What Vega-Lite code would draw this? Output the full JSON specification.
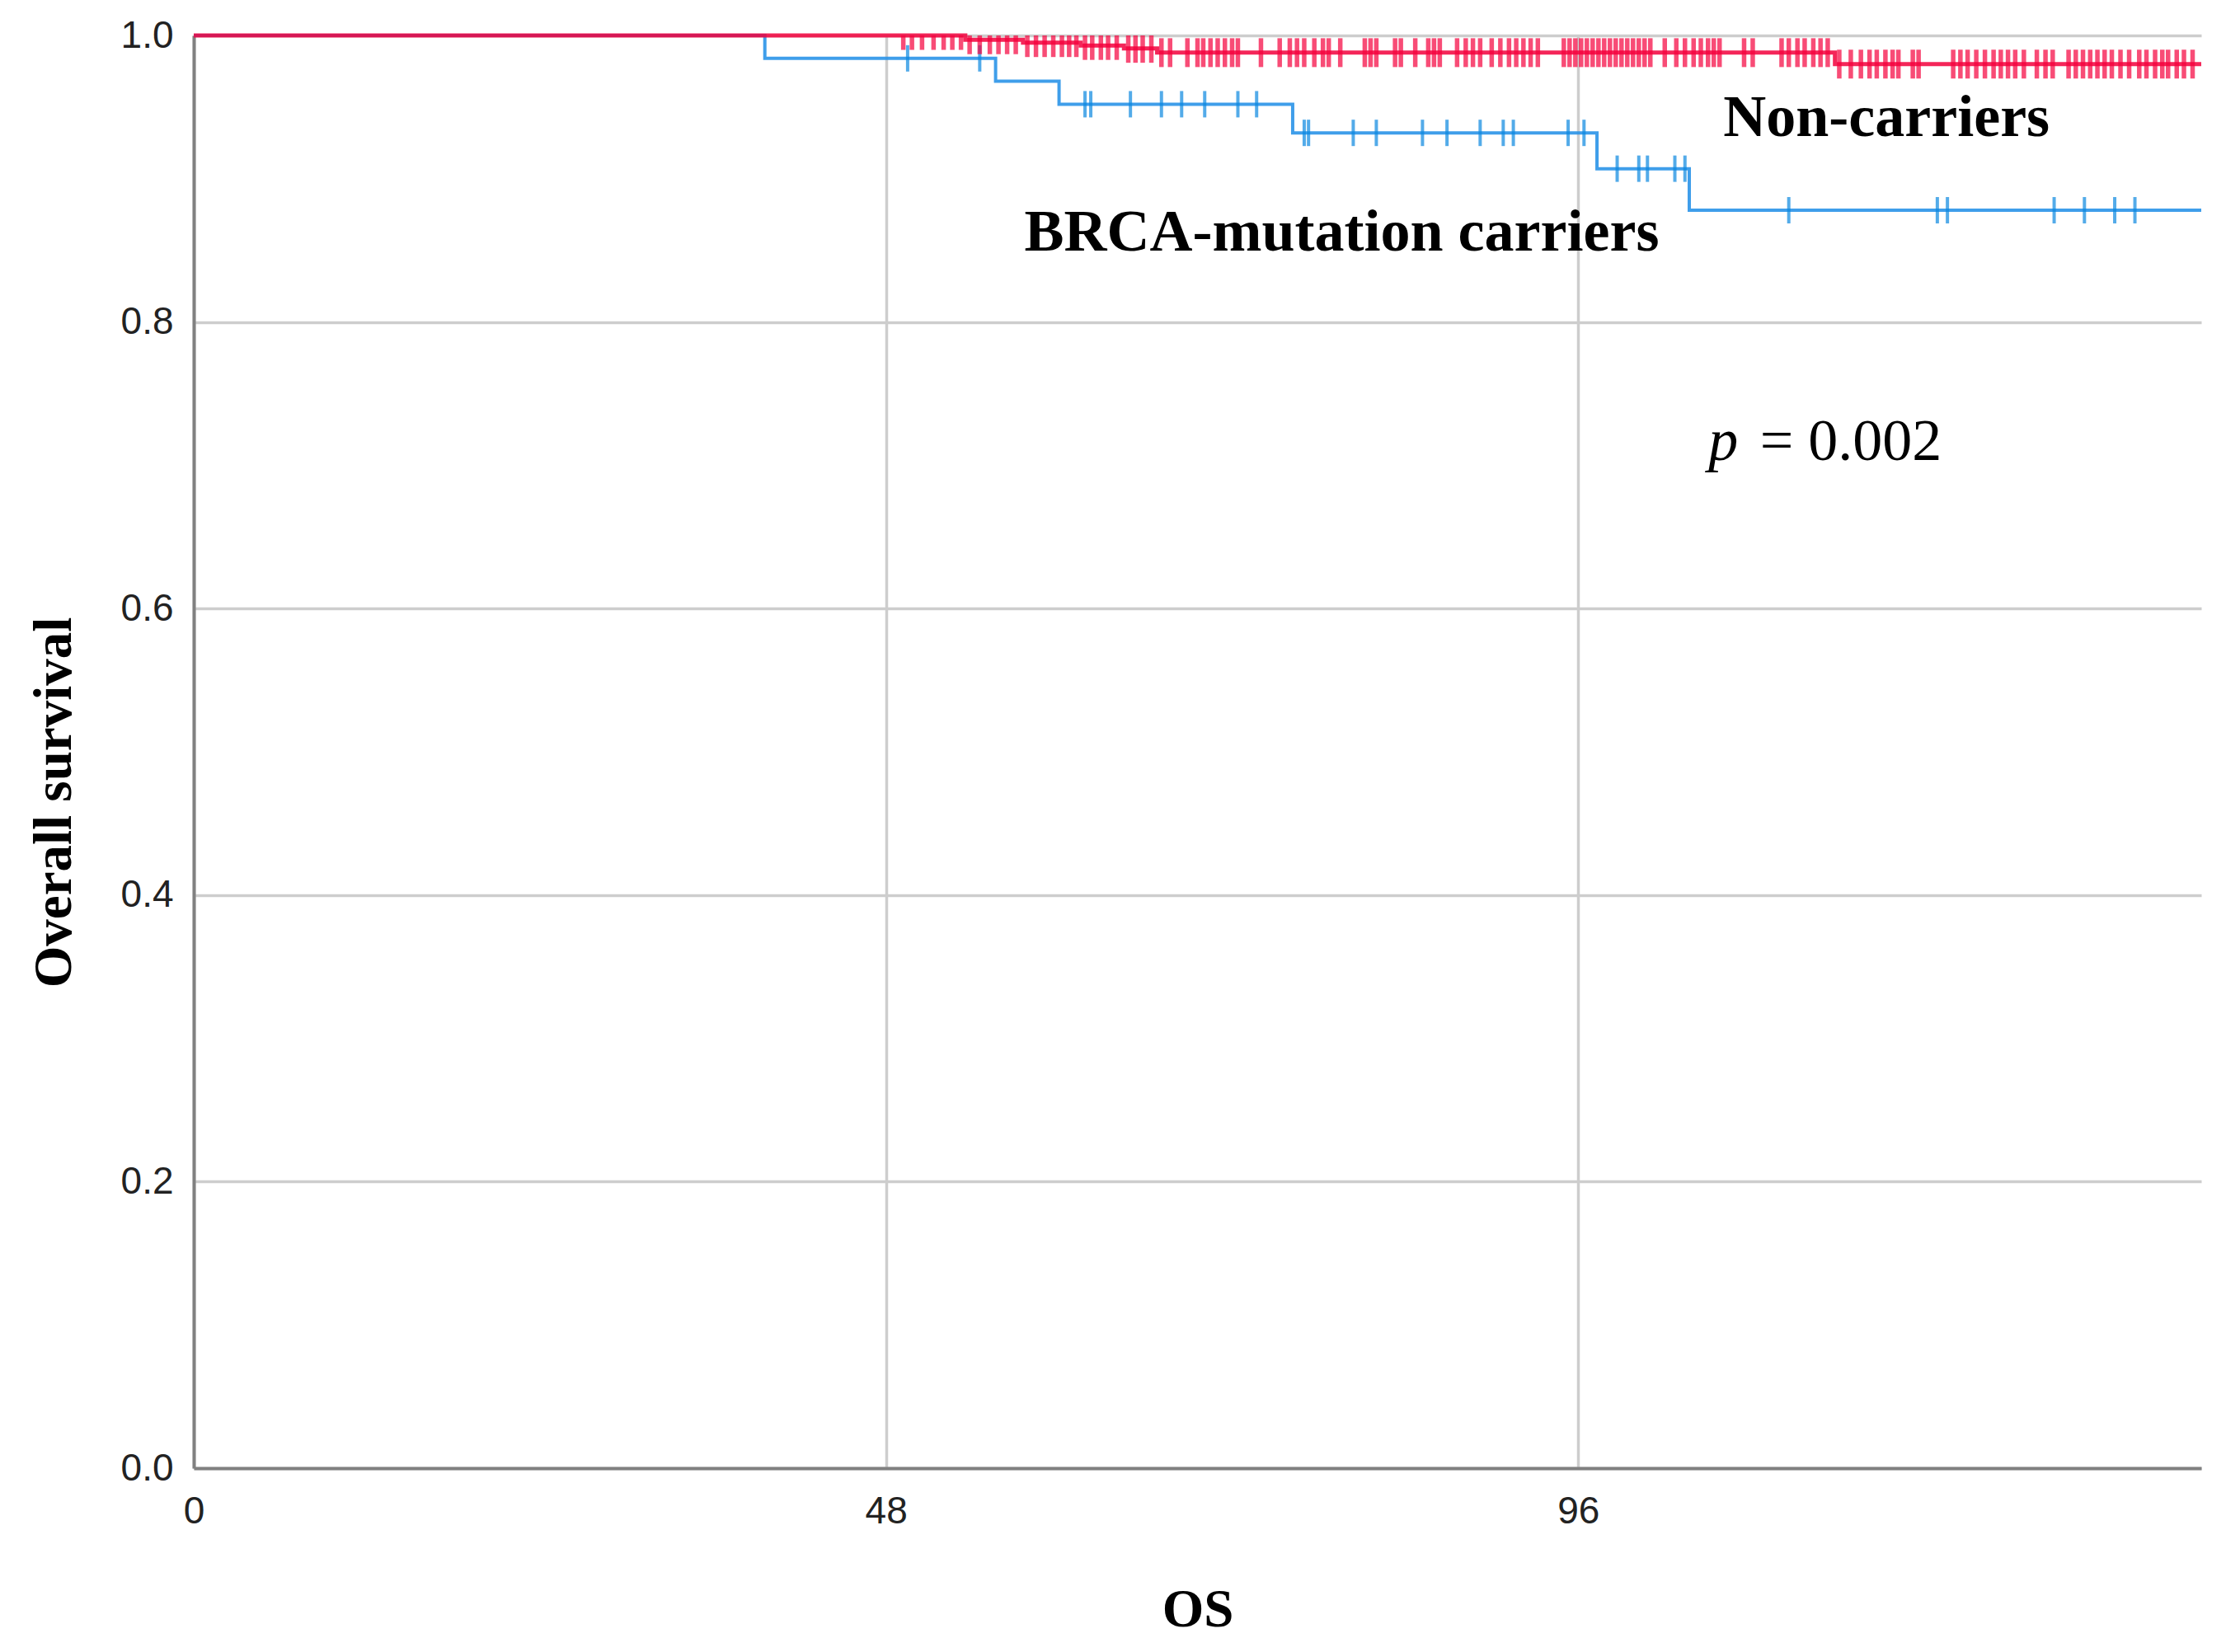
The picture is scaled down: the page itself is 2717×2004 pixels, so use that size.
{
  "$schema": "https://vega.github.io/schema/vega-lite/v6.json",
  "width": 2435,
  "height": 1738,
  "autosize": {"type": "none"},
  "padding": {"left": 235, "top": 43, "right": 47, "bottom": 223},
  "background": "white",
  "config": {"view": {"stroke": null}, "font": "Liberation Sans"},
  "datasets": {
    "blueSteps": [
      {"t": 0, "s": 1.0}, {"t": 39.6, "s": 0.984}, {"t": 55.6, "s": 0.968}, {"t": 60.0, "s": 0.952},
      {"t": 76.2, "s": 0.932}, {"t": 97.3, "s": 0.907}, {"t": 103.7, "s": 0.878}, {"t": 139.2, "s": 0.878}
    ],
    "redSteps": [
      {"t": 0, "s": 1.0}, {"t": 53.5, "s": 0.997}, {"t": 57.5, "s": 0.995}, {"t": 61.5, "s": 0.993},
      {"t": 64.5, "s": 0.991}, {"t": 66.8, "s": 0.988}, {"t": 113.8, "s": 0.98}, {"t": 139.2, "s": 0.98}
    ],
    "blueCensor": [
      {"t": 49.5, "s": 0.984}, {"t": 54.5, "s": 0.984},
      {"t": 61.8, "s": 0.952}, {"t": 62.2, "s": 0.952}, {"t": 64.95, "s": 0.952}, {"t": 67.1, "s": 0.952},
      {"t": 68.5, "s": 0.952}, {"t": 70.1, "s": 0.952}, {"t": 72.4, "s": 0.952}, {"t": 73.7, "s": 0.952},
      {"t": 77.0, "s": 0.932}, {"t": 77.3, "s": 0.932}, {"t": 80.4, "s": 0.932}, {"t": 82.0, "s": 0.932},
      {"t": 85.2, "s": 0.932}, {"t": 86.9, "s": 0.932}, {"t": 89.2, "s": 0.932}, {"t": 90.8, "s": 0.932},
      {"t": 91.5, "s": 0.932}, {"t": 95.3, "s": 0.932}, {"t": 96.4, "s": 0.932},
      {"t": 98.7, "s": 0.907}, {"t": 100.2, "s": 0.907}, {"t": 100.8, "s": 0.907}, {"t": 102.7, "s": 0.907}, {"t": 103.4, "s": 0.907},
      {"t": 110.6, "s": 0.878}, {"t": 120.9, "s": 0.878}, {"t": 121.6, "s": 0.878}, {"t": 129.0, "s": 0.878},
      {"t": 131.1, "s": 0.878}, {"t": 133.2, "s": 0.878}, {"t": 134.6, "s": 0.878}
    ],
    "redCensor": [
      {"t": 49.2, "s": 1.0}, {"t": 49.8, "s": 1.0}, {"t": 50.5, "s": 1.0}, {"t": 51.3, "s": 1.0}, {"t": 52.0, "s": 1.0}, {"t": 52.6, "s": 1.0}, {"t": 53.2, "s": 1.0},
      {"t": 53.8, "s": 0.997}, {"t": 54.5, "s": 0.997}, {"t": 55.2, "s": 0.997}, {"t": 55.8, "s": 0.997}, {"t": 56.4, "s": 0.997}, {"t": 57.0, "s": 0.997},
      {"t": 57.8, "s": 0.995}, {"t": 58.4, "s": 0.995}, {"t": 59.0, "s": 0.995}, {"t": 59.6, "s": 0.995}, {"t": 60.2, "s": 0.995}, {"t": 60.7, "s": 0.995}, {"t": 61.2, "s": 0.995},
      {"t": 61.8, "s": 0.993}, {"t": 62.3, "s": 0.993}, {"t": 62.9, "s": 0.993}, {"t": 63.4, "s": 0.993}, {"t": 64.0, "s": 0.993},
      {"t": 64.8, "s": 0.991}, {"t": 65.3, "s": 0.991}, {"t": 65.8, "s": 0.991}, {"t": 66.4, "s": 0.991},
      {"t": 67.1, "s": 0.988}, {"t": 67.7, "s": 0.988}, {"t": 68.9, "s": 0.988}, {"t": 69.6, "s": 0.988}, {"t": 70.0, "s": 0.988},
      {"t": 70.5, "s": 0.988}, {"t": 71.0, "s": 0.988}, {"t": 71.5, "s": 0.988}, {"t": 72.0, "s": 0.988}, {"t": 72.4, "s": 0.988},
      {"t": 74.0, "s": 0.988}, {"t": 75.3, "s": 0.988}, {"t": 76.0, "s": 0.988}, {"t": 76.5, "s": 0.988}, {"t": 77.0, "s": 0.988},
      {"t": 77.7, "s": 0.988}, {"t": 78.3, "s": 0.988}, {"t": 78.7, "s": 0.988}, {"t": 79.5, "s": 0.988}, {"t": 81.2, "s": 0.988},
      {"t": 81.6, "s": 0.988}, {"t": 82.0, "s": 0.988}, {"t": 83.3, "s": 0.988}, {"t": 83.7, "s": 0.988}, {"t": 84.7, "s": 0.988},
      {"t": 85.6, "s": 0.988}, {"t": 86.0, "s": 0.988}, {"t": 86.4, "s": 0.988}, {"t": 87.6, "s": 0.988}, {"t": 88.2, "s": 0.988},
      {"t": 88.7, "s": 0.988}, {"t": 89.2, "s": 0.988}, {"t": 90.0, "s": 0.988}, {"t": 90.6, "s": 0.988}, {"t": 91.2, "s": 0.988},
      {"t": 91.7, "s": 0.988}, {"t": 92.2, "s": 0.988}, {"t": 92.7, "s": 0.988}, {"t": 93.2, "s": 0.988}, {"t": 95.0, "s": 0.988},
      {"t": 95.4, "s": 0.988}, {"t": 95.8, "s": 0.988}, {"t": 96.2, "s": 0.988}, {"t": 96.6, "s": 0.988}, {"t": 97.0, "s": 0.988},
      {"t": 97.4, "s": 0.988}, {"t": 97.8, "s": 0.988}, {"t": 98.2, "s": 0.988}, {"t": 98.6, "s": 0.988}, {"t": 99.0, "s": 0.988},
      {"t": 99.4, "s": 0.988}, {"t": 99.8, "s": 0.988}, {"t": 100.2, "s": 0.988}, {"t": 100.6, "s": 0.988}, {"t": 101.0, "s": 0.988},
      {"t": 102.0, "s": 0.988}, {"t": 102.8, "s": 0.988}, {"t": 103.4, "s": 0.988}, {"t": 104.0, "s": 0.988}, {"t": 104.5, "s": 0.988},
      {"t": 105.0, "s": 0.988}, {"t": 105.4, "s": 0.988}, {"t": 105.8, "s": 0.988}, {"t": 107.5, "s": 0.988}, {"t": 108.1, "s": 0.988},
      {"t": 110.1, "s": 0.988}, {"t": 110.6, "s": 0.988}, {"t": 111.2, "s": 0.988}, {"t": 111.7, "s": 0.988}, {"t": 112.3, "s": 0.988},
      {"t": 112.8, "s": 0.988}, {"t": 113.3, "s": 0.988},
      {"t": 114.1, "s": 0.98}, {"t": 114.9, "s": 0.98}, {"t": 115.6, "s": 0.98}, {"t": 116.2, "s": 0.98}, {"t": 116.7, "s": 0.98},
      {"t": 117.3, "s": 0.98}, {"t": 117.8, "s": 0.98}, {"t": 118.2, "s": 0.98}, {"t": 119.2, "s": 0.98}, {"t": 119.6, "s": 0.98},
      {"t": 122.0, "s": 0.98}, {"t": 122.5, "s": 0.98}, {"t": 123.0, "s": 0.98}, {"t": 123.6, "s": 0.98}, {"t": 124.2, "s": 0.98},
      {"t": 124.8, "s": 0.98}, {"t": 125.3, "s": 0.98}, {"t": 125.8, "s": 0.98}, {"t": 126.3, "s": 0.98}, {"t": 126.9, "s": 0.98},
      {"t": 127.8, "s": 0.98}, {"t": 128.4, "s": 0.98}, {"t": 128.9, "s": 0.98}, {"t": 130.0, "s": 0.98}, {"t": 130.5, "s": 0.98},
      {"t": 131.0, "s": 0.98}, {"t": 131.5, "s": 0.98}, {"t": 132.0, "s": 0.98}, {"t": 132.5, "s": 0.98}, {"t": 133.0, "s": 0.98},
      {"t": 133.6, "s": 0.98}, {"t": 134.2, "s": 0.98}, {"t": 134.9, "s": 0.98}, {"t": 135.4, "s": 0.98}, {"t": 136.0, "s": 0.98},
      {"t": 136.5, "s": 0.98}, {"t": 136.9, "s": 0.98}, {"t": 137.5, "s": 0.98}, {"t": 138.0, "s": 0.98}, {"t": 138.6, "s": 0.98}
    ],
    "labels": [
      {"t": 106.06, "s": 0.9298, "label": "Non-carriers"},
      {"t": 57.6, "s": 0.8498, "label": "BRCA-mutation carriers"}
    ],
    "pLabel": [{"t": 105.03, "s": 0.7037, "label": "p"}],
    "pValue": [{"t": 108.6, "s": 0.7037, "label": "= 0.002"}]
  },
  "encoding": {
    "x": {
      "field": "t", "type": "quantitative",
      "scale": {"domain": [0, 139.2], "nice": false, "zero": false},
      "axis": {
        "values": [0, 48, 96], "title": "OS",
        "titleFont": "Liberation Serif", "titleFontWeight": "bold", "titleFontSize": 65, "titleColor": "#000000",
        "titleY": 191, "titleBaseline": "alphabetic",
        "labelFont": "Liberation Sans", "labelFontSize": 46, "labelColor": "#222222", "labelPadding": 30,
        "labelFlush": false, "labelOverlap": false,
        "ticks": false, "domainColor": "#808080", "domainWidth": 4,
        "grid": true, "gridColor": "#CDCDCD", "gridWidth": 3.5
      }
    },
    "y": {
      "field": "s", "type": "quantitative",
      "scale": {"domain": [0, 1], "nice": false, "zero": false},
      "axis": {
        "values": [0, 0.2, 0.4, 0.6, 0.8, 1.0], "format": ".1f", "title": "Overall survival",
        "titleFont": "Liberation Serif", "titleFontWeight": "bold", "titleFontSize": 65, "titleColor": "#000000",
        "titleX": -170, "titleY": 930, "titleBaseline": "middle", "titleAngle": -90,
        "labelFont": "Liberation Sans", "labelFontSize": 46, "labelColor": "#222222", "labelPadding": 25,
        "labelFlush": false, "labelOverlap": false,
        "ticks": false, "domainColor": "#808080", "domainWidth": 4,
        "grid": true, "gridColor": "#CDCDCD", "gridWidth": 3.5
      }
    }
  },
  "layer": [
    {
      "data": {"name": "blueSteps"},
      "mark": {"type": "line", "interpolate": "step-after", "color": "#2A94E8", "strokeWidth": 4, "opacity": 0.9}
    },
    {
      "data": {"name": "blueCensor"},
      "mark": {"type": "tick", "orient": "vertical", "size": 32, "thickness": 4, "color": "#0A88E0"}
    },
    {
      "data": {"name": "redSteps"},
      "mark": {"type": "line", "interpolate": "step-after", "color": "#F2003C", "strokeWidth": 5, "opacity": 0.85}
    },
    {
      "data": {"name": "redCensor"},
      "mark": {"type": "tick", "orient": "vertical", "size": 35, "thickness": 5.5, "color": "#F5003C", "clip": true}
    },
    {
      "data": {"name": "labels"},
      "mark": {"type": "text", "font": "Liberation Serif", "fontWeight": "bold", "fontSize": 72, "align": "left", "baseline": "alphabetic", "color": "#000000"},
      "encoding": {"text": {"field": "label"}}
    },
    {
      "data": {"name": "pLabel"},
      "mark": {"type": "text", "font": "Liberation Serif", "fontStyle": "italic", "fontSize": 72, "align": "left", "baseline": "alphabetic", "color": "#000000"},
      "encoding": {"text": {"field": "label"}}
    },
    {
      "data": {"name": "pValue"},
      "mark": {"type": "text", "font": "Liberation Serif", "fontSize": 72, "align": "left", "baseline": "alphabetic", "color": "#000000"},
      "encoding": {"text": {"field": "label"}}
    }
  ]
}
